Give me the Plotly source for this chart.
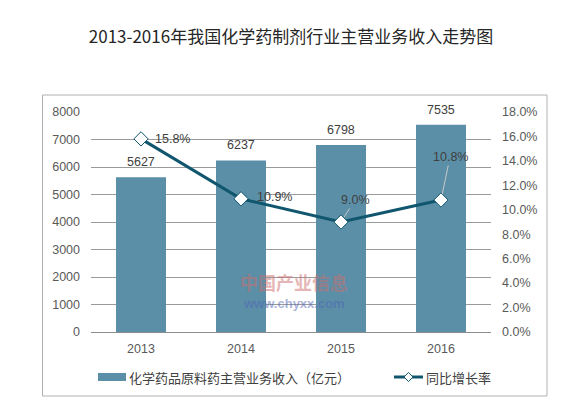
import plotly.graph_objects as go

years = ["2013", "2014", "2015", "2016"]
revenue = [5627, 6237, 6798, 7535]
growth = [15.8, 10.9, 9.0, 10.8]
growth_labels = ["15.8%", "10.9%", "9.0%", "10.8%"]
left_ticks = [0, 1000, 2000, 3000, 4000, 5000, 6000, 7000, 8000]
right_ticks = [0, 2, 4, 6, 8, 10, 12, 14, 16, 18]
right_tick_text = [f"{v:.1f}%" for v in right_ticks]

title = "2013-2016年我国化学药制剂行业主营业务收入走势图"
bar_name = "化学药品原料药主营业务收入（亿元）"
line_name = "同比增长率"

BAR_C = "#5b8fa7"
LINE_C = "#0f566e"
FONT = "Liberation Sans, Arial, Noto Sans CJK SC"
CJK = "Noto Sans CJK SC, Microsoft YaHei"

W, H = 581, 398
L, R, T, B = 91, 491, 112, 332


def px(x):
    return (x - L) / (R - L)


def py(y):
    return (B - y) / (B - T)


fig = go.Figure()
fig.add_trace(go.Bar(x=years, y=revenue, name=bar_name, marker_color=BAR_C,
                     marker_line_width=0, showlegend=False))
fig.add_trace(go.Scatter(x=years, y=growth, name=line_name, yaxis="y2",
                         mode="lines+markers",
                         line=dict(color=LINE_C, width=3),
                         marker=dict(symbol="diamond", size=11, color="white",
                                     line=dict(color=LINE_C, width=1)),
                         showlegend=False, cliponaxis=False))

ann = []
# bar value labels (category index positions)
for i, v in enumerate(revenue):
    ann.append(dict(x=i, y=v, xref="x", yref="y", text=str(v), showarrow=False,
                    yanchor="bottom", yshift=6,
                    font=dict(family=FONT, size=12.5, color="#404040")))
# growth labels
offs = [(12, 0, False), (14, 2, False), (14, -22, True), (9, -43, True)]
for i, (v, t, (dx, dy, arrow)) in enumerate(zip(growth, growth_labels, offs)):
    if arrow:
        ann.append(dict(x=i, y=v, xref="x", yref="y2", text=t, showarrow=True,
                        ax=dx, ay=dy, arrowhead=0, arrowwidth=1,
                        arrowcolor="#c8c8c8", standoff=6,
                        font=dict(family=FONT, size=12.5, color="#404040")))
    else:
        ann.append(dict(x=i, y=v, xref="x", yref="y2", text=t, showarrow=False,
                        xanchor="left", yanchor="middle", xshift=dx, yshift=dy,
                        font=dict(family=FONT, size=12.5, color="#404040")))
# watermark
ann.append(dict(x=px(294), y=py(282), xref="paper", yref="paper",
                text="<b>中国产业信息</b>", showarrow=False,
                xanchor="center", yanchor="middle",
                font=dict(family=CJK, size=18, color="rgba(205,110,110,0.5)")))
ann.append(dict(x=px(294), y=py(303), xref="paper", yref="paper",
                text="<b>www.chyxx.com</b>", showarrow=False,
                xanchor="center", yanchor="middle",
                font=dict(family=FONT, size=13, color="rgba(80,100,180,0.5)")))
# legend text
ann.append(dict(x=px(127), y=py(377), xref="paper", yref="paper", text=bar_name,
                showarrow=False, xanchor="left", yanchor="middle",
                font=dict(family=CJK, size=13, color="#404040")))
ann.append(dict(x=px(424), y=py(377), xref="paper", yref="paper", text=line_name,
                showarrow=False, xanchor="left", yanchor="middle",
                font=dict(family=CJK, size=13, color="#404040")))

shapes = [
    dict(type="rect", xref="paper", yref="paper", x0=px(42.5), x1=px(547),
         y0=py(396), y1=py(95), line=dict(color="#b0b0b0", width=1), layer="below"),
    dict(type="rect", xref="paper", yref="paper", x0=px(98), x1=px(126),
         y0=py(381), y1=py(373), fillcolor=BAR_C, line=dict(width=0)),
    dict(type="line", xref="paper", yref="paper", x0=px(394), x1=px(423),
         y0=py(377), y1=py(377), line=dict(color=LINE_C, width=3)),
    dict(type="path", xref="paper", yref="paper", xsizemode="pixel", ysizemode="pixel",
         xanchor=px(408.5), yanchor=py(377), path="M -4.5 0 L 0 4.5 L 4.5 0 L 0 -4.5 Z",
         fillcolor="white", line=dict(color=LINE_C, width=1)),
]

fig.update_layout(
    width=W, height=H,
    margin=dict(l=L, r=W - R, t=T, b=H - B, pad=0),
    paper_bgcolor="white", plot_bgcolor="white",
    bargap=0.5,
    title=dict(text=title, x=0.5, xanchor="center", xref="paper",
               y=1 - 37 / H, yanchor="middle", yref="container",
               font=dict(family=CJK, size=17, color="#262626")),
    xaxis=dict(type="category", range=[-0.5, 3.5], showgrid=False, showline=True,
               linecolor="#8c8c8c", linewidth=1, ticks="",
               tickfont=dict(family=FONT, size=12.5, color="#595959"),
               ticklabelstandoff=5),
    yaxis=dict(range=[0, 8000], tickvals=left_ticks, showgrid=True,
               gridcolor="#9a9a9a", gridwidth=1, zeroline=False, showline=False,
               ticks="", tickfont=dict(family=FONT, size=12.5, color="#595959"),
               ticklabelstandoff=10),
    yaxis2=dict(range=[0, 18], tickvals=right_ticks, ticktext=right_tick_text,
                overlaying="y", side="right", showgrid=False, zeroline=False,
                showline=False, ticks="",
                tickfont=dict(family=FONT, size=12.5, color="#595959"),
                ticklabelstandoff=10),
    annotations=ann, shapes=shapes, showlegend=False,
)

fig.write_html("out.html", config={"displayModeBar": False},
               post_script="document.body.style.margin='0';")
